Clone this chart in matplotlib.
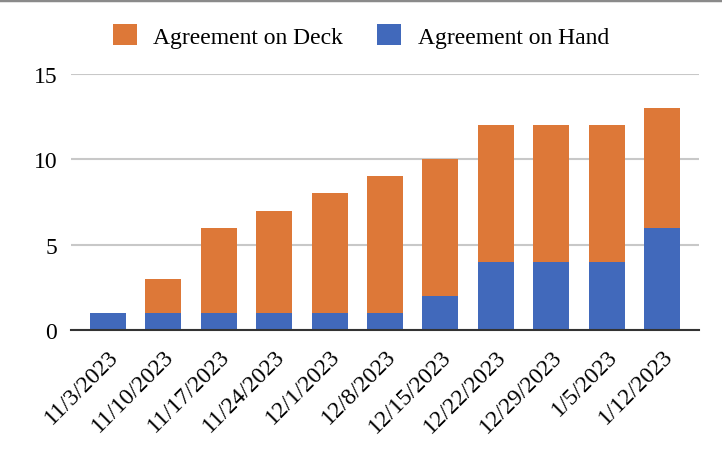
import matplotlib.pyplot as plt
from matplotlib.lines import Line2D
import numpy as np

dates = ['11/3/2023', '11/10/2023', '11/17/2023', '11/24/2023', '12/1/2023',
         '12/8/2023', '12/15/2023', '12/22/2023', '12/29/2023', '1/5/2023',
         '1/12/2023']
hand = [1, 1, 1, 1, 1, 1, 2, 4, 4, 4, 6]
deck = [0, 2, 5, 6, 7, 8, 8, 8, 8, 8, 7]

plt.rcParams['font.family'] = ['Liberation Serif', 'DejaVu Serif']

fig = plt.figure(figsize=(7.22, 4.52), dpi=100)
ax = fig.add_axes([71 / 722, 121 / 452, 628 / 722, 256 / 452])

x = np.arange(len(dates))
ax.bar(x, hand, width=0.65, color='#4169bb', label='Agreement on Hand', zorder=2)
ax.bar(x, deck, width=0.65, bottom=hand, color='#dd7838',
       label='Agreement on Deck', zorder=2)

ax.set_xlim(-0.67, len(dates) - 1 + 0.67)
ax.set_ylim(0, 15)
ax.set_yticks([0, 5, 10, 15])
ax.yaxis.grid(True, color='#c8c8c8', linewidth=1.5, zorder=0)
ax.set_axisbelow(True)
for s in ['top', 'right', 'left']:
    ax.spines[s].set_visible(False)
ax.spines['bottom'].set_color('#333333')
ax.spines['bottom'].set_linewidth(1.5)
ax.spines['bottom'].set_zorder(3)
ax.tick_params(axis='both', length=0, labelsize=17, colors='black')
ax.tick_params(axis='y', pad=10)
ax.tick_params(axis='x', pad=11)
ax.set_xticks(x)
ax.set_xticklabels(dates, rotation=45, ha='right', rotation_mode='anchor')

handles, labels = ax.get_legend_handles_labels()
fig.legend(handles[::-1], labels[::-1], loc='center', bbox_to_anchor=(0.5, 1 - 37 / 452),
           ncol=2, frameon=False, fontsize=17, handlelength=1.0, handleheight=1.0,
           handletextpad=0.7, columnspacing=1.45)

fig.add_artist(Line2D([0, 1], [0.998, 0.998], color='#8a8a8a', linewidth=2.5,
                      transform=fig.transFigure))

fig.savefig('out.png', dpi=100)
